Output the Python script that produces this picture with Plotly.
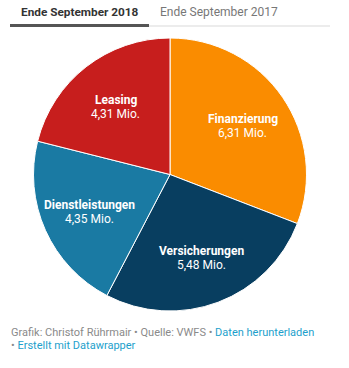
import math
import plotly.graph_objects as go

# Kundenverträge Ende September 2018 (in Mio.)
categories = ["Finanzierung", "Versicherungen", "Dienstleistungen", "Leasing"]
values = [6.31, 5.48, 4.35, 4.31]
colors = ["#fa8c00", "#083e60", "#1a7aa3", "#c71e1d"]

tabs = ["Ende September 2018", "Ende September 2017"]

W, H = 349, 368
FONT = "Roboto"

# pie geometry in pixels
CX, CY, R = 170, 174.5, 136.5
LABEL_R = 0.645 * R

fig = go.Figure()
fig.add_trace(go.Pie(
    labels=categories,
    values=values,
    sort=False,
    direction="clockwise",
    rotation=0,
    marker=dict(colors=colors, line=dict(color="white", width=1)),
    textinfo="none",
    hoverinfo="label+value",
    showlegend=False,
    domain=dict(x=[(CX - R) / W, (CX + R) / W],
                y=[1 - (CY + R) / H, 1 - (CY - R) / H]),
))


def px(x):
    return x / W


def py(y):
    return 1 - y / H


def fmt(v):
    return f"{v:.2f}".replace(".", ",") + " Mio."


# slice labels placed along each slice's middle angle
annotations = []
total = sum(values)
start = 0.0
for name, v in zip(categories, values):
    frac = v / total
    mid = (start + frac / 2) * 2 * math.pi
    start += frac
    lx = CX + LABEL_R * math.sin(mid)
    ly = CY - LABEL_R * math.cos(mid) + 1.5
    annotations.append(dict(
        text="<b>" + name + "</b>", x=px(lx), y=py(ly - 7),
        xref="paper", yref="paper", xanchor="center", yanchor="middle",
        showarrow=False, font=dict(family=FONT, size=12, color="white")))
    annotations.append(dict(
        text=fmt(v), x=px(lx), y=py(ly + 7),
        xref="paper", yref="paper", xanchor="center", yanchor="middle",
        showarrow=False, font=dict(family=FONT, size=12, color="white")))

shapes = [
    # tab underline
    dict(type="line", xref="paper", yref="paper", x0=px(149), x1=px(330),
         y0=py(26), y1=py(26), line=dict(color="#d9d9d9", width=1)),
    dict(type="rect", xref="paper", yref="paper", x0=px(10), x1=px(149),
         y0=py(27), y1=py(24), fillcolor="#555555", line=dict(width=0)),
]

annotations += [
    dict(text="<b>" + tabs[0] + "</b>", x=px(79.5), y=py(12), xref="paper", yref="paper",
         xanchor="center", yanchor="middle", showarrow=False,
         font=dict(family=FONT, size=11.8, color="#333333")),
    dict(text=tabs[1], x=px(218.5), y=py(12), xref="paper", yref="paper",
         xanchor="center", yanchor="middle", showarrow=False,
         font=dict(family=FONT, size=12, color="#777777")),
    dict(text="Grafik: Christof Rührmair • Quelle: VWFS • "
              "<span style='color:#1d9fcc'>Daten herunterladen</span>",
         x=px(9), y=py(332), xref="paper", yref="paper",
         xanchor="left", yanchor="middle", showarrow=False,
         font=dict(family=FONT, size=11, color="#8a8a8a")),
    dict(text="• <span style='color:#1d9fcc'>Erstellt mit Datawrapper</span>",
         x=px(9), y=py(345), xref="paper", yref="paper",
         xanchor="left", yanchor="middle", showarrow=False,
         font=dict(family=FONT, size=11, color="#8a8a8a")),
]

fig.update_layout(
    width=W, height=H,
    margin=dict(l=0, r=0, t=0, b=0),
    paper_bgcolor="white",
    plot_bgcolor="white",
    font=dict(family=FONT),
    shapes=shapes,
    annotations=annotations,
)

fig.write_html("out.html")
